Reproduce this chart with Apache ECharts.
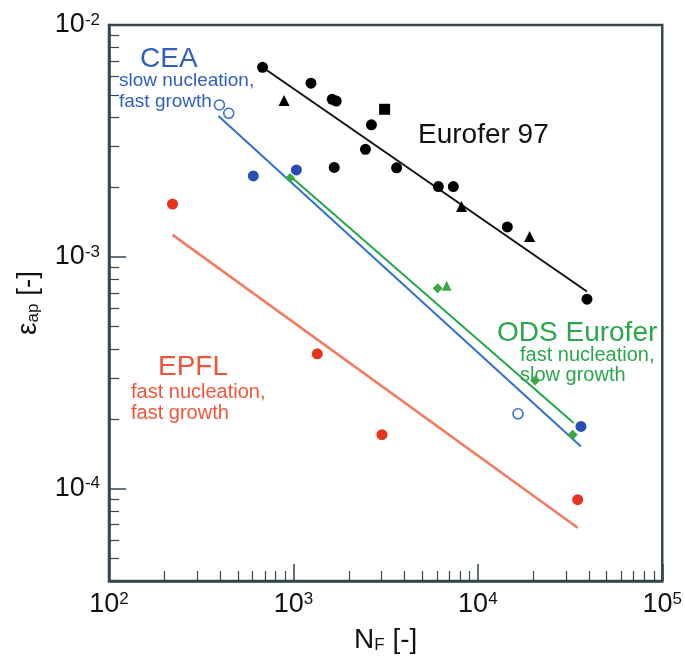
<!DOCTYPE html>
<html>
<head>
<meta charset="utf-8">
<script src="https://cdn.jsdelivr.net/npm/echarts@6/dist/echarts.min.js"></script>
<style>
  html, body { margin: 0; padding: 0; background: #ffffff; }
  #chart { width: 685px; height: 665px; }
</style>
</head>
<body>
<div id="chart"></div>
<script>
// Eurofer 97 fatigue data (N_F, strain amplitude)
const euroferCircles = [
  [680, 6.57e-3], [1245, 5.61e-3], [1623, 4.78e-3], [1706, 4.70e-3],
  [2648, 3.71e-3], [2458, 2.91e-3], [1664, 2.43e-3], [3626, 2.42e-3],
  [6109, 2.01e-3], [7363, 2.01e-3], [14450, 1.346e-3], [39050, 6.57e-4]
];
const euroferTriangles = [[890, 4.72e-3], [8160, 1.647e-3], [19090, 1.223e-3]];
const euroferSquares = [[3123, 4.33e-3]];
const euroferFit = [[680, 6.57e-3], [39050, 7.09e-4]];

// CEA
const ceaFilled = [[606, 2.234e-3], [1038, 2.37e-3], [36250, 1.856e-4]];
const ceaOpen = [[397, 4.52e-3], [446, 4.16e-3], [16510, 2.105e-4]];
const ceaFit = [[392, 4.05e-3], [36250, 1.52e-4]];

// ODS Eurofer
const odsDiamonds = [[959, 2.19e-3], [6056, 7.33e-4], [20460, 2.93e-4], [32690, 1.71e-4]];
const odsTriangles = [[6773, 7.5e-4]];
const odsFit = [[959, 2.23e-3], [33100, 1.92e-4]];

// EPFL
const epflPoints = [[221, 1.69e-3], [1347, 3.82e-4], [3020, 1.71e-4], [34780, 8.97e-5]];
const epflFit = [[221, 1.244e-3], [34780, 6.79e-5]];

// Axis ranges and labelled decades
const xRange = [1e2, 1e5];
const yRange = [4e-5, 1e-2];
const xMajorTicks = [1e2, 1e3, 1e4, 1e5];
const yMajorTicks = [1e-4, 1e-3, 1e-2];

// Intermediate 2..9 ticks inside each decade, clipped to the axis range
function minorTicks(range) {
  const out = [];
  const lo = Math.floor(Math.log10(range[0]));
  const hi = Math.ceil(Math.log10(range[1]));
  for (let e = lo; e < hi; e++) {
    for (let m = 2; m <= 9; m++) {
      const v = parseFloat((m * Math.pow(10, e)).toPrecision(6));
      if (v >= range[0] * 0.999 && v <= range[1] * 1.001) out.push(v);
    }
  }
  return out;
}

const AXIS = '#34464e';
const FONT = 'Liberation Sans, Arial, sans-serif';
const BLUE = '#2f5fbf';
const GREEN = '#28a84a';
const RED = '#f0553a';

const powLabel = v => '{b|10}{s|' + Math.round(Math.log10(v)) + '}';
const powRich = {
  b: { fontSize: 27, color: '#111', fontFamily: FONT },
  s: { fontSize: 17, color: '#111', fontFamily: FONT, verticalAlign: 'top' }
};

const chart = echarts.init(document.getElementById('chart'), null, { renderer: 'canvas' });

function scatter(name, data, symbol, size, color, style) {
  return {
    name, type: 'scatter', data, symbol, symbolSize: size,
    itemStyle: Object.assign({ color, opacity: 1 }, style || {}),
    xAxisIndex: 0, yAxisIndex: 0, z: 5
  };
}
function fit(name, data, color, width) {
  return {
    name, type: 'line', data, showSymbol: false, symbol: 'none',
    lineStyle: { color, width }, xAxisIndex: 0, yAxisIndex: 0, z: 3,
    silent: true
  };
}
function note(text, x, y, size, color) {
  return {
    type: 'text', left: x, top: y,
    style: { text, fontSize: size, fill: color, fontFamily: FONT, textVerticalAlign: 'middle' }
  };
}

chart.setOption({
  animation: false,
  backgroundColor: '#ffffff',
  grid: {
    left: 109, right: 20, top: 25, bottom: 84,
    show: true, borderColor: AXIS, borderWidth: 2.5, backgroundColor: 'transparent'
  },
  xAxis: [
    {
      type: 'log', logBase: 10, min: xRange[0], max: xRange[1], position: 'bottom',
      axisLine: { show: true, lineStyle: { color: AXIS, width: 2.5 } },
      axisTick: { show: true, inside: true, length: 17, customValues: xMajorTicks, lineStyle: { color: AXIS, width: 1.5 } },
      axisLabel: { customValues: xMajorTicks, formatter: powLabel, rich: powRich, margin: 10 },
      splitLine: { show: false },
      name: '{n|N}{sub|F}{n| [-]}',
      nameLocation: 'middle', nameGap: 45,
      nameTextStyle: {
        rich: {
          n: { fontSize: 28, color: '#111', fontFamily: FONT },
          sub: { fontSize: 17, color: '#111', fontFamily: FONT, verticalAlign: 'bottom' }
        }
      }
    },
    {
      type: 'log', logBase: 10, min: xRange[0], max: xRange[1], position: 'bottom',
      axisLine: { show: false },
      axisTick: { show: true, inside: true, length: 10, customValues: minorTicks(xRange), lineStyle: { color: AXIS, width: 1.2 } },
      axisLabel: { show: false },
      splitLine: { show: false }
    }
  ],
  yAxis: [
    {
      type: 'log', logBase: 10, min: yRange[0], max: yRange[1], position: 'left',
      axisLine: { show: true, lineStyle: { color: AXIS, width: 2.5 } },
      axisTick: { show: true, inside: true, length: 17, customValues: yMajorTicks, lineStyle: { color: AXIS, width: 1.5 } },
      axisLabel: { customValues: yMajorTicks, formatter: powLabel, rich: powRich, margin: 9 },
      splitLine: { show: false },
      name: '{e|\u03b5}{sub|ap}{e| [-]}',
      nameLocation: 'middle', nameGap: 67, nameRotate: 90,
      nameTextStyle: {
        rich: {
          e: { fontSize: 28, color: '#111', fontFamily: FONT },
          sub: { fontSize: 17, color: '#111', fontFamily: FONT, verticalAlign: 'bottom' }
        }
      }
    },
    {
      type: 'log', logBase: 10, min: yRange[0], max: yRange[1], position: 'left',
      axisLine: { show: false },
      axisTick: { show: true, inside: true, length: 10, customValues: minorTicks(yRange), lineStyle: { color: AXIS, width: 1.2 } },
      axisLabel: { show: false },
      splitLine: { show: false }
    }
  ],
  series: [
    fit('Eurofer 97 fit', euroferFit, '#111111', 2),
    fit('CEA fit', ceaFit, '#3170cc', 2),
    fit('ODS Eurofer fit', odsFit, '#22a84a', 2),
    fit('EPFL fit', epflFit, '#f37a5e', 2.5),
    scatter('Eurofer 97', euroferCircles, 'circle', 11, '#000000'),
    scatter('Eurofer 97 (triangles)', euroferTriangles, 'triangle', 11, '#000000'),
    scatter('Eurofer 97 (square)', euroferSquares, 'rect', 11, '#000000'),
    scatter('CEA', ceaFilled, 'circle', 11, '#2a4db3'),
    scatter('CEA (open)', ceaOpen, 'circle', 10, '#ffffff', { borderColor: '#3a6fd0', borderWidth: 1.6 }),
    scatter('ODS Eurofer', odsDiamonds, 'diamond', 10, '#3aa845'),
    scatter('ODS Eurofer (triangle)', odsTriangles, 'triangle', 10, '#3aa845'),
    scatter('EPFL', epflPoints, 'circle', 11, '#e8341f')
  ],
  graphic: [
    note('CEA', 140, 45, 28, BLUE),
    note('slow nucleation,', 119, 71, 19, BLUE),
    note('fast growth', 119, 92, 19, BLUE),
    note('Eurofer 97', 418, 121, 28, '#111111'),
    note('ODS Eurofer', 497, 319, 28, GREEN),
    note('fast nucleation,', 520, 345, 20, GREEN),
    note('slow growth', 520, 365, 20, GREEN),
    note('EPFL', 158, 353, 28, RED),
    note('fast nucleation,', 131, 382, 20, RED),
    note('fast growth', 131, 403, 20, RED)
  ]
});
</script>
</body>
</html>
